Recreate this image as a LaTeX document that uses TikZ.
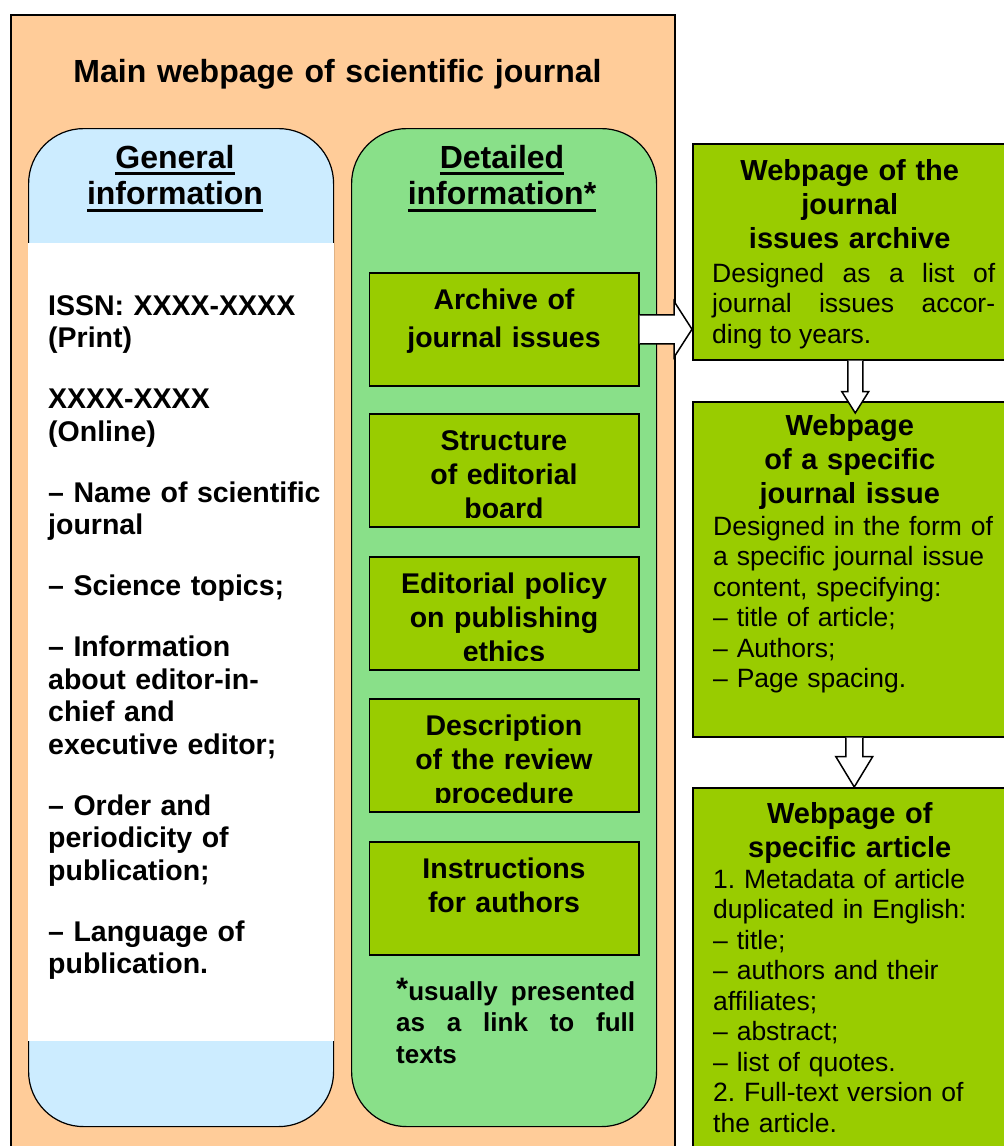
\documentclass[tikz,border=0pt]{standalone}
\usepackage{fontspec}
\setmainfont{Liberation Sans}
\usetikzlibrary{calc}
\frenchspacing

\definecolor{peach}{HTML}{FFCC99}
\definecolor{skyblue}{HTML}{CCECFF}
\definecolor{mint}{HTML}{89E089}
\definecolor{leafgreen}{HTML}{99CC00}

% thick underline for the column titles
\newcommand{\thul}[1]{\leavevmode\hbox{\setbox0\hbox{#1}\rlap{\rule[-7pt]{\wd0}{3pt}}\box0}}

\begin{document}
\begin{tikzpicture}[x=1pt, y=1pt,
    bigtitle/.style={font=\fontsize{32}{36.5}\selectfont\bfseries, inner sep=0pt,
        text width=300pt, align=center, anchor=base},
    listtxt/.style={font=\fontsize{28.5}{32.5}\selectfont\bfseries, inner sep=0pt,
        text width=285pt, align=left, anchor=base west},
    panel/.style={draw=black, line width=1.2pt, rounded corners=55pt,
        minimum width=305pt, minimum height=998pt, anchor=north west, inner sep=0pt},
    secbox/.style={draw=black, line width=1.5pt, fill=leafgreen,
        minimum width=269.5pt, minimum height=113pt, anchor=north west, inner sep=0pt},
    sectxt/.style={font=\fontsize{28.5}{34}\selectfont\bfseries, inner sep=0pt,
        text width=265pt, align=center, anchor=base},
    pagebox/.style={draw=black, line width=1.5pt, fill=leafgreen,
        minimum width=314pt, anchor=north west, inner sep=0pt},
    pagehead/.style={font=\fontsize{29}{34}\selectfont\bfseries, inner sep=0pt,
        text width=300pt, align=center, anchor=base},
    pagebody/.style={font=\fontsize{26.5}{30.5}\selectfont, inner sep=0pt,
        text width=283pt, anchor=base west},
    blockarrow/.style={draw=black, line width=1.5pt, fill=white, line join=miter}]

    \clip (0,0) rectangle (1004,-1146);

    % ── Main webpage ─────────────────────────────────────────────────────────
    \node[draw=black, line width=2pt, fill=peach, minimum width=664pt,
          minimum height=1200pt, anchor=north west, inner sep=0pt] (mainpg) at (10,-14) {};
    \node[bigtitle, text width=600pt] (title) at (337.5,-82)
        {Main webpage of scientific journal};

    % ── General information ──────────────────────────────────────────────────
    \node[panel, fill=skyblue] (gen) at (28,-128) {};
    \node[fill=white, minimum width=306pt, minimum height=798pt,
          anchor=north west, inner sep=0pt] (genwhite) at (27.5,-243) {};
    \node[bigtitle] (gentitle) at (175,-168) {\thul{General}\\\thul{information}};
    \node[listtxt] (genlist) at (48,-315) {ISSN: XXXX-XXXX\\
        (Print)\\[28.5pt]
        XXXX-XXXX\\
        (Online)\\[28.5pt]
        – Name of scientific\\
        journal\\[28.5pt]
        – Science topics;\\[28.5pt]
        – Information\\
        about editor-in-\\
        chief and\\
        executive editor;\\[28.5pt]
        – Order and\\
        periodicity of\\
        publication;\\[28.5pt]
        – Language of\\
        publication.};

    % ── Detailed information ─────────────────────────────────────────────────
    \node[panel, fill=mint] (det) at (351,-128) {};
    \node[bigtitle] (dettitle) at (502,-168) {\thul{Detailed}\\\thul{information*}};

    \foreach \nm/\yy/\txt in {arch/272/{Archive of\\[4pt]journal issues},
                              board/413/{Structure\\of editorial\\board},
                              ethic/556/{Editorial policy\\on publishing\\ethics},
                              review/698/{Description\\of the review\\procedure},
                              instr/841/{Instructions\\for authors}}{
        \node[secbox] (\nm) at (368.5,-\yy) {};
        \begin{scope}
            \clip ($(\nm.north west)+(1,-1)$) rectangle ($(\nm.south east)+(-1,10.5)$);
            \node[sectxt] (\nm-txt) at ($(\nm.north)+(0,-37.5)$) {\txt};
        \end{scope}
    }

    \node[font=\fontsize{26}{31.5}\selectfont\bfseries, inner sep=0pt, text width=239pt,
          align=justify, anchor=base west] (note) at (396,-1000)
        {\raisebox{1pt}{\fontsize{31}{31}\selectfont*}usually presented\linebreak
         as a link to full\linebreak texts};

    % ── Right column: pages ──────────────────────────────────────────────────
    \node[pagebox, minimum height=216pt] (arc) at (692,-143) {};
    \node[pagebox, minimum height=335pt] (iss) at (692,-401) {};
    \node[pagebox, minimum height=420pt] (art) at (692,-787) {};

    \node[pagehead] (arc-head) at ($(arc.north)+(0,-37)$)
        {Webpage of the\\journal\\issues archive};
    \begin{scope}
        \clip ($(arc.north west)+(1,-1)$) rectangle ($(arc.south east)+(-1,11)$);
        \node[pagebody, align=justify] (arc-body) at (712,-282)
            {Designed as a list of\linebreak journal issues accor-\linebreak ding to years.};
    \end{scope}

    \node[pagehead] (iss-head) at ($(iss.north)+(0,-34)$)
        {Webpage\\of a specific\\journal issue};
    \node[pagebody, align=left] (iss-body) at (713,-535)
        {Designed in the form of\\a specific journal issue\\content, specifying:\\– title of article;\\– Authors;\\– Page spacing.};

    \node[pagehead] (art-head) at ($(art.north)+(0,-36)$)
        {Webpage of\\specific article};
    \node[pagebody, align=left] (art-body) at (713,-888)
        {1. Metadata of article\\duplicated in English:\\– title;\\– authors and their\\affiliates;\\– abstract;\\– list of quotes.\\2. Full-text version of\\the article.};

    % ── Block arrows ─────────────────────────────────────────────────────────
    \draw[blockarrow] ($(arch.east)+(0,14.5)$) -- ($(arc.west |- arch.east)+(-18,14.5)$)
        -- ++(0,13.5) -- (arc.west |- arch.east) -- ++(-18,-28) -- ++(0,13.5)
        -- ($(arch.east)+(0,-14.5)$);
    \draw[blockarrow] ($(arc.south)+(-2,0)$) -- ++(0,-31) -- ++(-6,0)
        -- ($(iss.north)+(5.5,-12)$) -- ($(arc.south)+(19,-31)$) -- ++(-6,0)
        -- ($(arc.south)+(13,0)$);
    \draw[blockarrow] ($(iss.south)+(-4,0)$) -- ++(0,-19) -- ++(-10,0)
        -- ($(art.north)+(4.5,0)$) -- ($(iss.south)+(23,-19)$) -- ++(-10,0)
        -- ($(iss.south)+(13,0)$);

\end{tikzpicture}
\end{document}
